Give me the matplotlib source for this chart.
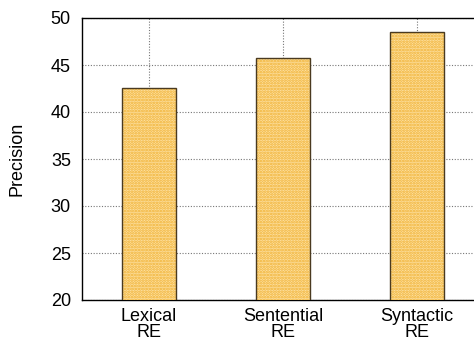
import numpy as np
import matplotlib.pyplot as plt

plt.rcParams['font.family'] = ['Liberation Sans', 'DejaVu Sans']
plt.rcParams['hatch.linewidth'] = 1.3

# data
categories = ['Lexical\nRE', 'Sentential\nRE', 'Syntactic\nRE']
precision = [42.6, 45.7, 48.5]

fig = plt.figure(figsize=(4.74, 3.42), dpi=100)
# axes run past the right edge of the picture, as in the reference
ax = fig.add_axes([82 / 474, 42 / 342, 402 / 474, 282 / 342])

x = np.arange(1, len(categories) + 1)
# checkered fill: pale face with orange hatch, then a dark outline on top
ax.bar(x, precision, width=0.4, color='#fde0a0', edgecolor='#f0b030',
       linewidth=0, hatch='......', zorder=3)
ax.bar(x, precision, width=0.4, fill=False, edgecolor='#4a3a20',
       linewidth=1.0, zorder=4)

ax.set_xlim(0.5, 3.5)
ax.set_ylim(20, 50)
ax.set_yticks(np.arange(20, 51, 5))
ax.set_xticks(x)
ax.set_xticklabels(categories, fontsize=13, linespacing=0.88)
ax.tick_params(axis='y', labelsize=13, length=0, pad=8)
ax.tick_params(axis='x', length=0, pad=6)
ax.set_ylabel('Precision', fontsize=13, labelpad=18)
ax.grid(True, color='#777777', linestyle=(0, (1, 1.5)), linewidth=0.8, zorder=0)

for s in ax.spines.values():
    s.set_linewidth(1.0)
    s.set_color('black')

fig.savefig('out.png', dpi=100)
